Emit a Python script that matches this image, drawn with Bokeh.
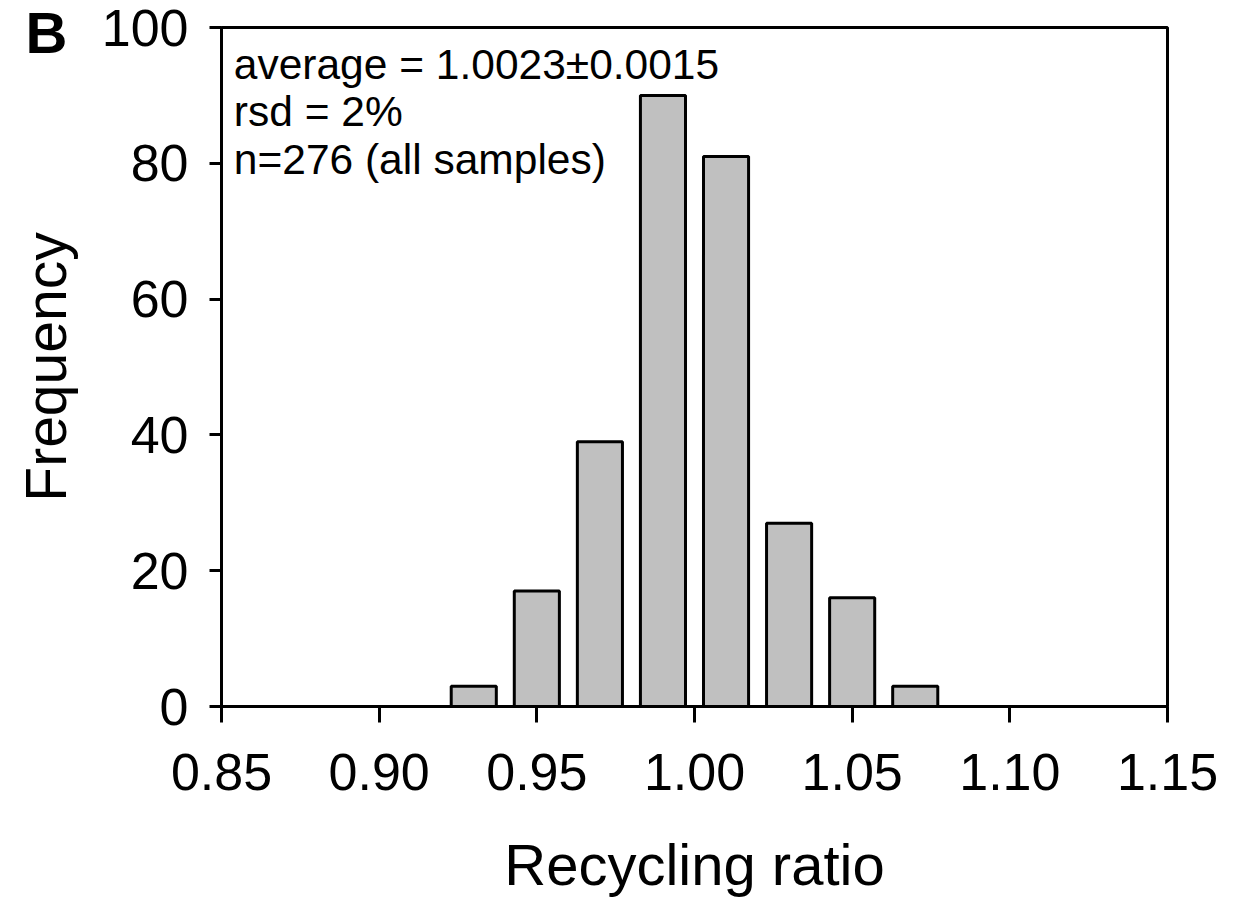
from bokeh.plotting import figure
from bokeh.models import FixedTicker, PrintfTickFormatter, Label, Range1d
from bokeh.embed import file_html
from bokeh.resources import INLINE

# data
bin_centers = [0.93, 0.95, 0.97, 0.99, 1.01, 1.03, 1.05, 1.07]
counts = [3, 17, 39, 90, 81, 27, 16, 3]
x_ticks = [0.85, 0.90, 0.95, 1.00, 1.05, 1.10, 1.15]
y_ticks = [0, 20, 40, 60, 80, 100]
notes = ["average = 1.0023\u00b10.0015", "rsd = 2%", "n=276 (all samples)"]
panel_letter = "B"

FONT = "Liberation Sans"
W, H = 1240, 899

p = figure(width=W, height=H, output_backend="svg", toolbar_location=None,
           x_range=Range1d(0.85, 1.15), y_range=Range1d(0, 100),
           min_border_left=221, min_border_right=73, min_border_top=27, min_border_bottom=184)
p.xgrid.visible = False
p.ygrid.visible = False
p.outline_line_color = "black"
p.outline_line_width = 3
p.outline_line_alpha = 1

p.vbar(x=bin_centers, top=counts, bottom=0, width=0.0143,
       fill_color="#c0c0c0", line_color="black", line_width=3)

for ax in (p.xaxis[0], p.yaxis[0]):
    ax.axis_line_width = 3
    ax.axis_line_color = "black"
    ax.major_tick_line_width = 3
    ax.major_tick_line_color = "black"
    ax.minor_tick_line_color = None
    ax.major_tick_in = 0
    ax.major_label_text_font = FONT
    ax.major_label_text_font_size = "52px"
    ax.major_label_text_color = "black"
    ax.axis_label_text_font = FONT
    ax.axis_label_text_font_size = "57px"
    ax.axis_label_text_font_style = "normal"
    ax.axis_label_text_color = "black"

p.xaxis.ticker = FixedTicker(ticks=x_ticks)
p.xaxis.formatter = PrintfTickFormatter(format="%.2f")
p.xaxis.major_tick_out = 16
p.xaxis.major_label_standoff = 31
p.xaxis.axis_label = "Recycling ratio"
p.xaxis.axis_label_text_font_size = "58px"
p.xaxis.axis_label_standoff = 39

p.yaxis.ticker = FixedTicker(ticks=y_ticks)
p.yaxis.major_tick_out = 12
p.yaxis.major_label_standoff = 21
p.yaxis.axis_label = "Frequency"
p.yaxis.axis_label_standoff = 21

for i, t in enumerate(notes):
    p.add_layout(Label(x=0.8539, y=94.56 - i * 7.0, text=t, text_font=FONT,
                       text_font_size="42.5px", text_color="black",
                       text_baseline="alphabetic", text_align="left"))

# placed in the (empty) right side panel so that it is not clipped to the frame;
# screen units are relative to that panel's box (left edge = frame right edge)
p.add_layout(Label(x=-1142, y=674, x_units="screen", y_units="screen",
                   text=panel_letter, text_font=FONT,
                   text_font_style="bold", text_font_size="58px", text_color="black",
                   text_baseline="alphabetic", text_align="left"), "right")

open("out.html", "w").write(file_html(p, INLINE))
